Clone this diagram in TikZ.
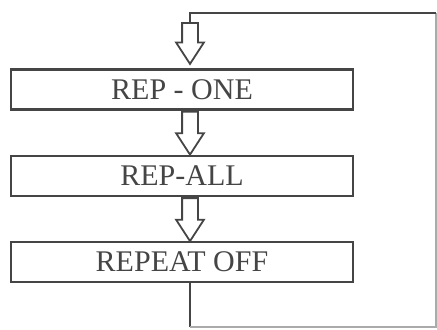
\documentclass[tikz,border=0pt]{standalone}
\usepackage{fontspec}
\setmainfont{Liberation Serif}
\usepackage{tikz}
\usetikzlibrary{shapes,positioning,calc}
\definecolor{ink}{HTML}{454545}
\tikzset{
    modebox/.style={
                draw=ink,
                line width=1.2pt,
                text=ink,
                font=\fontsize{15}{18}\selectfont,
                minimum width=171pt,
                minimum height=20pt,
                inner sep=0pt
            },
        hollow/.style={
                draw=ink,
                line width=0.9pt,
                single arrow,
                rotate=-90,
                anchor=tail,
                single arrow head extend=3pt,
                single arrow tip angle=66,
                single arrow head indent=0pt,
                inner xsep=0pt,
                inner ysep=3.5pt
            },
        link/.style={draw=ink,line width=1.1pt},
        rim/.style={draw=ink!45,line width=0.6pt},
}

\begin{document}
\begin{tikzpicture}[x=0.5pt,y=-0.5pt]
  \useasboundingbox (0,0) rectangle (437,329);
  % Boxes
  \node[modebox] (one) at (182,89.5) {REP - ONE};
  \node[modebox] (all) at (182,176) {REP-ALL};
  \node[modebox] (off) at (182,262) {REPEAT OFF};
  % Hollow arrows
  \coordinate (tl) at (190,13);
  \node[hollow,minimum height=20.5pt] (a0) at (190,22) {};
  \node[hollow,minimum height=21.5pt] (a1) at (one.south -| tl) {};
  \node[hollow,minimum height=21.5pt] (a2) at (all.south -| tl) {};
  % Loop back
  \coordinate (bl) at (190,327);
  \coordinate (br) at (436,327);
  \coordinate (tr) at (436,13);
  \draw[link] (off.south -| bl) -- (bl);
  \draw[rim] (bl) -- (br) -- (tr);
  \draw[link] (tr) -- (tl) -- (a0.tail);
\end{tikzpicture}
\end{document}
